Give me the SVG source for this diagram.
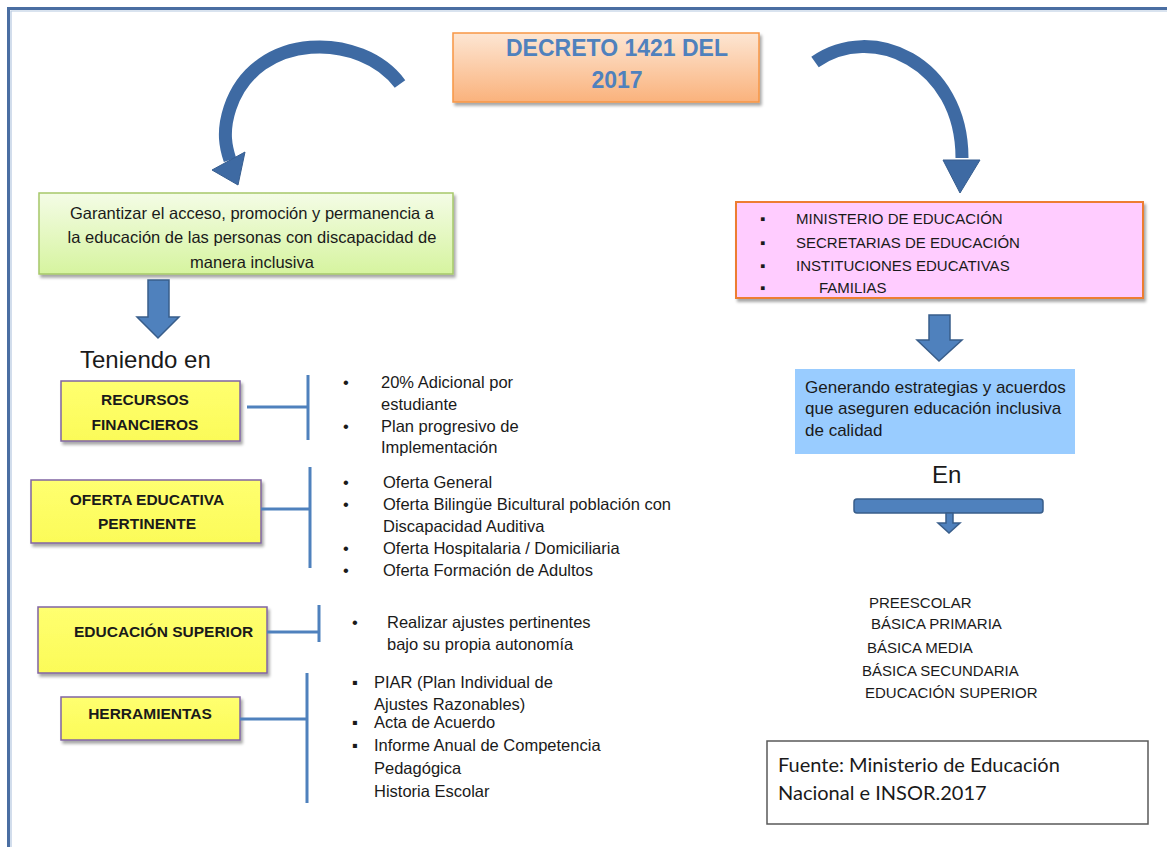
<svg xmlns="http://www.w3.org/2000/svg" width="1167" height="847" viewBox="0 0 1167 847">
  <defs>
    <linearGradient id="gOrange" x1="0" y1="0" x2="0" y2="1">
      <stop offset="0" stop-color="#fde6d3"/>
      <stop offset="1" stop-color="#fab27c"/>
    </linearGradient>
    <linearGradient id="gGreen" x1="0" y1="0" x2="0" y2="1">
      <stop offset="0" stop-color="#f4fce6"/>
      <stop offset="1" stop-color="#d6f49f"/>
    </linearGradient>
    <linearGradient id="gYellow" x1="0" y1="0" x2="0" y2="1">
      <stop offset="0" stop-color="#ffff70"/>
      <stop offset="1" stop-color="#fbfb58"/>
    </linearGradient>
    <filter id="shadow" x="-10%" y="-10%" width="130%" height="140%">
      <feDropShadow dx="2" dy="3" stdDeviation="1.5" flood-color="#000" flood-opacity="0.35"/>
    </filter>
    <style>
      .t{font-family:"Liberation Sans",Arial,sans-serif;fill:#1a1a1a}
      .body{font-size:16.5px}
      .lbl{font-size:15.5px;font-weight:bold;text-anchor:middle}
      .caps{font-size:15px}
      .ybox{fill:url(#gYellow);stroke:#8064a2;stroke-width:1.5;filter:url(#shadow)}
      .conn{fill:none;stroke:#4f81bd;stroke-width:3}
      .blk{fill:#4f81bd;stroke:#385d8a;stroke-width:1.5}
      .curve{fill:none;stroke:#3e6aa3;stroke-width:13}
      .curvehead{fill:#3e6aa3;stroke:#365d8f;stroke-width:1}
    </style>
  </defs>

  <rect width="1167" height="847" fill="#ffffff"/>

  <!-- frame -->
  <path d="M 8.5 847 V 8.5 H 1167" fill="none" stroke="#4a6ea2" stroke-width="3"/>
  <path d="M 11 847 V 11 H 1167" fill="none" stroke="#b4c7e0" stroke-width="1.2"/>

  <g id="decreto">
    <rect x="453" y="33" width="306" height="69" fill="url(#gOrange)" stroke="#f79646" stroke-width="1.5" filter="url(#shadow)"/>
    <text class="t" x="617" y="56" font-size="23" font-weight="bold" text-anchor="middle" style="fill:#4f81bd">DECRETO 1421 DEL</text>
    <text class="t" x="617" y="88" font-size="23" font-weight="bold" text-anchor="middle" style="fill:#4f81bd">2017</text>
  </g>

  <g id="garantizar">
    <rect x="39" y="193" width="414" height="81" fill="url(#gGreen)" stroke="#a6c86a" stroke-width="1.5" filter="url(#shadow)"/>
    <text class="t body" x="252" y="219" text-anchor="middle">Garantizar el acceso, promoción y permanencia a</text>
    <text class="t body" x="252" y="243" text-anchor="middle">la educación de las personas con discapacidad de</text>
    <text class="t body" x="252" y="268" text-anchor="middle">manera inclusiva</text>
  </g>

  <g id="actores">
    <rect x="736" y="202" width="407" height="96" fill="#ffccff" stroke="#ed7d31" stroke-width="2" filter="url(#shadow)"/>
    <text class="t caps" x="760" y="223.5">▪</text>
    <text class="t caps" x="796" y="223.5">MINISTERIO DE EDUCACIÓN</text>
    <text class="t caps" x="760" y="247.5">▪</text>
    <text class="t caps" x="796" y="247.5">SECRETARIAS DE EDUCACIÓN</text>
    <text class="t caps" x="760" y="270.5">▪</text>
    <text class="t caps" x="796" y="270.5">INSTITUCIONES EDUCATIVAS</text>
    <text class="t caps" x="760" y="292.5">▪</text>
    <text class="t caps" x="819" y="292.5">FAMILIAS</text>
  </g>

  <g id="teniendo">
    <text class="t" x="80" y="368" font-size="24">Teniendo en</text>
  </g>

  <g id="recursos">
    <rect class="ybox" x="61" y="381" width="179" height="60"/>
    <text class="t lbl" x="145" y="404.5">RECURSOS</text>
    <text class="t lbl" x="145" y="429.5">FINANCIEROS</text>
  </g>
  <g id="recursos-items">
    <text class="t body" x="343" y="388">•</text>
    <text class="t body" x="381" y="388">20% Adicional por</text>
    <text class="t body" x="381" y="410">estudiante</text>
    <text class="t body" x="343" y="432">•</text>
    <text class="t body" x="381" y="432">Plan progresivo de</text>
    <text class="t body" x="381" y="453">Implementación</text>
  </g>

  <g id="oferta">
    <rect class="ybox" x="31" y="480" width="230" height="63"/>
    <text class="t lbl" x="147" y="504.5">OFERTA EDUCATIVA</text>
    <text class="t lbl" x="147" y="528.5">PERTINENTE</text>
  </g>
  <g id="oferta-items">
    <text class="t body" x="343" y="488">•</text>
    <text class="t body" x="383" y="488">Oferta General</text>
    <text class="t body" x="343" y="510">•</text>
    <text class="t body" x="383" y="510">Oferta Bilingüe Bicultural población con</text>
    <text class="t body" x="383" y="532">Discapacidad Auditiva</text>
    <text class="t body" x="343" y="554">•</text>
    <text class="t body" x="383" y="554">Oferta Hospitalaria / Domiciliaria</text>
    <text class="t body" x="343" y="576">•</text>
    <text class="t body" x="383" y="576">Oferta Formación de Adultos</text>
  </g>

  <g id="superior">
    <rect class="ybox" x="38" y="607" width="229" height="66"/>
    <text class="t" x="74" y="636.5" font-size="15.5" font-weight="bold">EDUCACIÓN SUPERIOR</text>
  </g>
  <g id="superior-items">
    <text class="t body" x="352" y="628">•</text>
    <text class="t body" x="387" y="628">Realizar ajustes pertinentes</text>
    <text class="t body" x="387" y="650">bajo su propia autonomía</text>
  </g>

  <g id="herramientas">
    <rect class="ybox" x="61" y="697" width="179" height="43"/>
    <text class="t lbl" x="150" y="718.5">HERRAMIENTAS</text>
  </g>
  <g id="herramientas-items">
    <text class="t body" x="352" y="688">▪</text>
    <text class="t body" x="374" y="688">PIAR (Plan Individual de</text>
    <text class="t body" x="374" y="710">Ajustes Razonables)</text>
    <text class="t body" x="352" y="728">▪</text>
    <text class="t body" x="374" y="728">Acta de Acuerdo</text>
    <text class="t body" x="352" y="751">▪</text>
    <text class="t body" x="374" y="751">Informe Anual de Competencia</text>
    <text class="t body" x="374" y="774">Pedagógica</text>
    <text class="t body" x="374" y="797">Historia Escolar</text>
  </g>

  <g id="estrategias">
    <rect x="795" y="369" width="280" height="85" fill="#99ccff"/>
    <text class="t" x="805" y="393" font-size="17">Generando estrategias y acuerdos</text>
    <text class="t" x="805" y="414" font-size="17">que aseguren educación inclusiva</text>
    <text class="t" x="805" y="436" font-size="17">de calidad</text>
  </g>

  <g id="en">
    <text class="t" x="932" y="483" font-size="24">En</text>
  </g>

  <g id="niveles">
    <text class="t caps" x="869" y="607.5">PREESCOLAR</text>
    <text class="t caps" x="871" y="628.5">BÁSICA PRIMARIA</text>
    <text class="t caps" x="867" y="652.5">BÁSICA MEDIA</text>
    <text class="t caps" x="862" y="675.5">BÁSICA SECUNDARIA</text>
    <text class="t caps" x="865" y="697.5">EDUCACIÓN SUPERIOR</text>
  </g>

  <g id="fuente">
    <rect x="767" y="741" width="381" height="83" fill="#ffffff" stroke="#595959" stroke-width="1.5"/>
    <text x="778" y="772" font-family="Lato, 'Open Sans', sans-serif" font-size="20" fill="#1a1a1a">Fuente: Ministerio de Educación</text>
    <text x="778" y="800" font-family="Lato, 'Open Sans', sans-serif" font-size="20" fill="#1a1a1a">Nacional e INSOR.2017</text>
  </g>

  <g id="connectors">
    <!-- curved arrows from decreto -->
    <path class="curve" d="M 400 84 C 362 32, 256 30, 230 108 C 222 132, 226 148, 230 160"/>
    <polygon class="curvehead" points="212,170 245,152 238,185"/>
    <path class="curve" d="M 815 62 C 872 22, 962 62, 962 158"/>
    <polygon class="curvehead" points="943,160 980,160 960,193"/>

    <!-- block arrows -->
    <polygon class="blk" points="148,280 169,280 169,317 179,317 158,338 137,317 148,317"/>
    <polygon class="blk" points="929,315 950,315 950,340 962,340 939,361 917,340 929,340"/>
    <rect class="blk" x="854" y="499" width="189" height="14" rx="3"/>
    <polygon class="blk" points="946,513 953,513 953,523 960,523 949,533 938,523 946,523"/>

    <!-- brackets -->
    <path class="conn" d="M 247 407 H 308 M 308 375 V 440"/>
    <path class="conn" d="M 261 509 H 310 M 310 467 V 568"/>
    <path class="conn" d="M 267 632 H 319 M 319 605 V 642"/>
    <path class="conn" d="M 240 719 H 307 M 307 673 V 803"/>
  </g>
</svg>
